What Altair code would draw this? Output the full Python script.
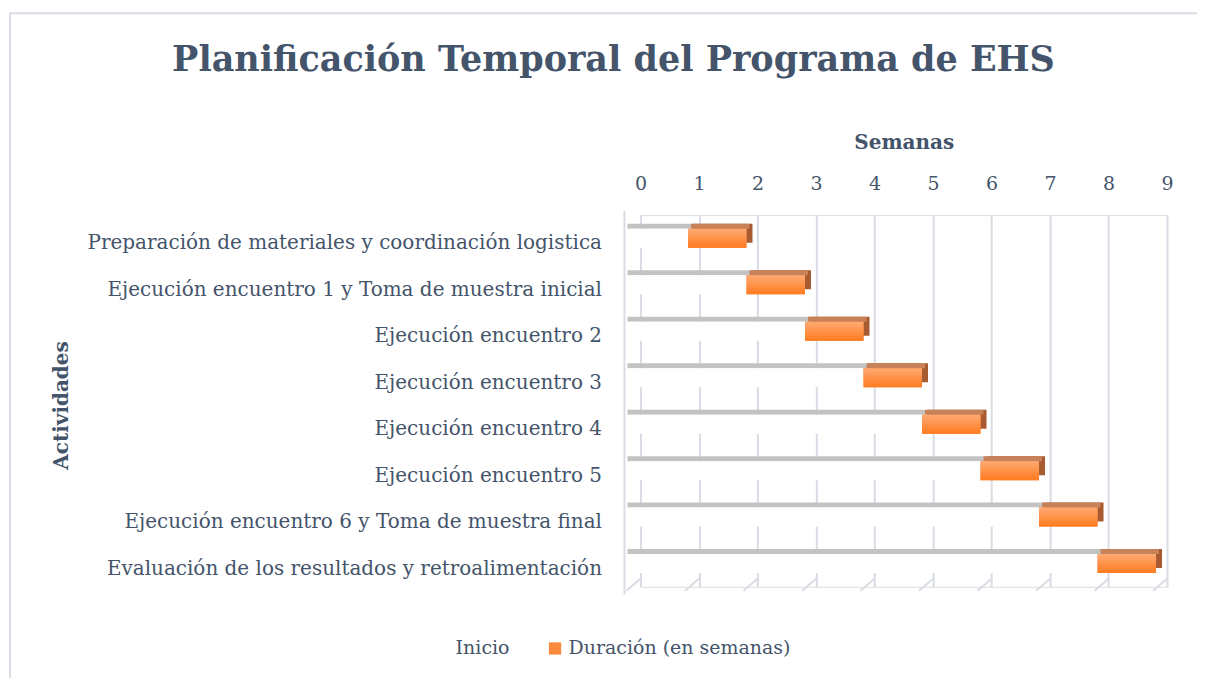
import altair as alt
import pandas as pd

actividades = [
    "Preparación de materiales y coordinación logistica",
    "Ejecución encuentro 1 y Toma de muestra inicial",
    "Ejecución encuentro 2",
    "Ejecución encuentro 3",
    "Ejecución encuentro 4",
    "Ejecución encuentro 5",
    "Ejecución encuentro 6 y Toma de muestra final",
    "Evaluación de los resultados y retroalimentación",
]
inicio = [1, 2, 3, 4, 5, 6, 7, 8]
duracion = [1, 1, 1, 1, 1, 1, 1, 1]
semanas = list(range(0, 10))
series = ["Inicio", "Duración (en semanas)"]

rows = []
for a, s, d in zip(actividades, inicio, duracion):
    rows.append({"act": a, "serie": series[0], "x0": 0, "x1": s})
    rows.append({"act": a, "serie": series[1], "x0": s, "x1": s + d})
df = pd.DataFrame(rows)
ticks = pd.DataFrame({"w": semanas})

FONT = "DejaVu Serif"
TXT = "#44546A"
GRID = "#D9DCE4"
W, H = 527, 372
BAR = 19

xs = alt.Scale(domain=[0, 9], nice=False)
ysc = alt.Scale(domain=actividades, paddingInner=0.0, paddingOuter=0.0)

base = alt.Chart(df)

xaxis = alt.Axis(orient="top", values=semanas, format="d", title="Semanas", titleFont=FONT,
                 titleFontSize=20, titleFontWeight="bold", titleColor=TXT,
                 titlePadding=22, labelFont=FONT, labelFontSize=19, labelColor=TXT,
                 labelPadding=22, labelFlush=False, labelOverlap=False,
                 ticks=False, domain=False, grid=True,
                 gridColor=GRID, gridWidth=2)
yaxis = alt.Axis(title="Actividades", titleFont=FONT, titleFontSize=20,
                 titleFontWeight="bold", titleColor=TXT, titleX=-579, titleY=H / 2 + 4,
                 titleAngle=-90, titleAlign="center", titleBaseline="middle",
                 labelFont=FONT, labelFontSize=20, labelColor=TXT, labelPadding=39,
                 labelOffset=5, ticks=False, domain=False, grid=False, labelLimit=600)

frame = alt.Chart(pd.DataFrame({"k": [0]})).mark_rect(
    fill="white", fillOpacity=0, stroke=GRID, strokeWidth=2
).encode(x=alt.value(-631), x2=alt.value(W + 60), y=alt.value(-202), y2=alt.value(H + 120))

title = alt.Chart(pd.DataFrame({"t": ["Planificación Temporal del Programa de EHS"]})).mark_text(
    font=FONT, fontSize=35, fontWeight="bold", color=TXT, align="center", baseline="middle"
).encode(x=alt.value(-27), y=alt.value(-155), text="t:N")

wall = alt.Chart(pd.DataFrame({"w": [0]})).mark_rule(color=GRID, strokeWidth=2, xOffset=-16).encode(
    x=alt.X("w:Q", scale=xs), y=alt.value(-4), y2=alt.value(H + 8))

floor = alt.Chart(ticks).mark_rule(color=GRID, strokeWidth=2, x2Offset=-14).encode(
    x=alt.X("w:Q", scale=xs), x2="w:Q", y=alt.value(H - 8), y2=alt.value(H + 4))

strip = base.transform_filter(alt.datum.serie == series[0]).mark_bar(
    color="#C3C3C3", size=5, xOffset=-13, x2Offset=-5, yOffset=-12
).encode(
    x=alt.X("x0:Q", scale=xs, axis=xaxis),
    x2="x1:Q",
    y=alt.Y("act:N", scale=ysc, axis=yaxis, sort=actividades),
)

depth = base.transform_filter(alt.datum.serie == series[1]).mark_bar(
    color="#A85B30", size=BAR, xOffset=-5, x2Offset=-5, yOffset=-5
).encode(x=alt.X("x0:Q", scale=xs), x2="x1:Q", y=alt.Y("act:N", scale=ysc, sort=actividades))

topface = base.transform_filter(alt.datum.serie == series[1]).mark_bar(
    color="#C8825A", size=5, xOffset=-8, x2Offset=-8, yOffset=-12
).encode(x=alt.X("x0:Q", scale=xs), x2="x1:Q", y=alt.Y("act:N", scale=ysc, sort=actividades))

front = base.mark_bar(size=BAR, xOffset=-11, x2Offset=-11).encode(
    x=alt.X("x0:Q", scale=xs), x2="x1:Q",
    y=alt.Y("act:N", scale=ysc, sort=actividades),
    color=alt.Color("serie:N", scale=alt.Scale(domain=series, range=["white", "#F98A3C"]),
                    legend=alt.Legend(title=None, orient="none", direction="horizontal",
                                      legendX=-208, legendY=424, symbolType="square",
                                      symbolSize=150, symbolStrokeWidth=0,
                                      labelFont=FONT, labelFontSize=19, labelColor=TXT,
                                      labelOffset=4, columnPadding=36, labelLimit=400)),
)

grad = alt.LinearGradient(gradient="linear", x1=0, x2=0, y1=0, y2=1,
                          stops=[alt.GradientStop(color="#FFAA74", offset=0),
                                 alt.GradientStop(color="#FF7B1F", offset=1)])
front_g = base.transform_filter(alt.datum.serie == series[1]).mark_bar(
    size=BAR, xOffset=-11, x2Offset=-11, color=grad
).encode(x=alt.X("x0:Q", scale=xs), x2="x1:Q", y=alt.Y("act:N", scale=ysc, sort=actividades))

chart = alt.layer(frame, title, wall, floor, strip, depth, topface, front, front_g).properties(
    width=W, height=H,
    autosize=alt.AutoSizeParams(type="none"),
    padding={"left": 633, "top": 207, "right": 30, "bottom": 91},
).configure_view(stroke=None).configure(background="white")

chart.save("out.html", embed_options={"renderer": "svg", "actions": False})
